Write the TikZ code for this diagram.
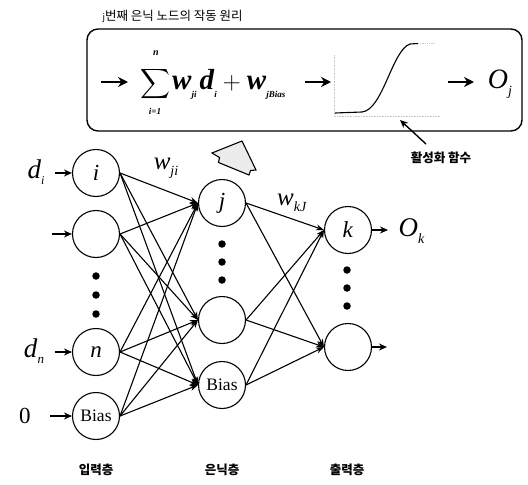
\documentclass[tikz,border=0pt]{standalone}
\usepackage{amsmath}
\usepackage{fontspec}
\setmainfont{Liberation Serif}
\newfontfamily\kor{Noto Sans CJK KR}
\usetikzlibrary{arrows.meta}

\begin{document}
\begin{tikzpicture}[x=1pt,y=-1pt,
  neuron/.style={circle,draw,line width=1.1pt,minimum size=47pt,inner sep=0pt,
                 font=\fontsize{23}{23}\selectfont},
  biasnode/.style={neuron,font=\fontsize{17.5}{17.5}\selectfont},
  link/.style={line width=1.1pt,-{Stealth[length=8pt,width=6pt]}},
  feed/.style={line width=1.3pt,-{Stealth[length=8pt,width=7pt]}},
  fatarrow/.style={line width=2.4pt,-{Stealth[length=10pt,width=10pt]}},
  vdot/.style={circle,fill,inner sep=0pt,minimum size=7.5pt},
  sym/.style={font=\fontsize{22}{22}\selectfont},
  layerlabel/.style={font=\kor\bfseries\fontsize{12.5}{12.5}\selectfont}]
\useasboundingbox (0,0) rectangle (528,485);

% ---- title and framed node equation ----
\node[anchor=west,font=\kor\fontsize{12.5}{12.5}\selectfont] (title) at (99,16)
  {\textit{\fontsize{9}{9}\selectfont j}번째 은닉 노드의 작동 원리};
\draw[line width=1.4pt,rounded corners=11pt] (87,29) rectangle (522,131);

\coordinate (f1s) at (101,82); \coordinate (f1e) at (128,82);
\draw[fatarrow] (f1s) -- (f1e);
\node[inner sep=0pt] (sumsign) at (155,84)
  {\fontsize{22}{22}\selectfont$\displaystyle\sum$};
\node[inner sep=0pt,font=\fontsize{10}{10}\selectfont\bfseries\itshape] (sumtop) at (156,53) {n};
\node[inner sep=0pt,font=\fontsize{9}{9}\selectfont\bfseries\itshape] (sumbot) at (155,111) {i=1};
\node[anchor=west,inner sep=0pt] (sumexpr) at (172,84)
  {\fontsize{29}{29}\selectfont
   \textbf{\textit{w}}\raisebox{-8pt}{\fontsize{9}{9}\selectfont\textbf{\textit{ji}}}%
   \hspace{3pt}\textbf{\textit{d}}\raisebox{-8pt}{\fontsize{9}{9}\selectfont\textbf{\textit{i}}}%
   \hspace{6pt}$+$\hspace{6pt}\textbf{\textit{w}}\raisebox{-8pt}{\fontsize{9}{9}\selectfont\textbf{\textit{jBias}}}};
\coordinate (f2s) at (305,82); \coordinate (f2e) at (331,82);
\draw[fatarrow] (f2s) -- (f2e);

% sigmoid activation sketch
\draw[gray!45,densely dotted,line width=0.6pt] (334,55) -- (334,116) -- (440,116);
\draw[line width=1.1pt] (335,113) -- (362,112)
  .. controls (383,110) and (392,50) .. (410,44) -- (418,43.5);
\draw[gray!45,densely dotted,line width=0.8pt] (418,43.5) -- (436,43.5);

\coordinate (f3s) at (448,82); \coordinate (f3e) at (474,82);
\draw[fatarrow] (f3s) -- (f3e);
\node[sym,font=\fontsize{28}{28}\selectfont] (Oj) at (500,84)
  {\textit{O}\raisebox{-7pt}{\fontsize{14}{14}\selectfont\textit{j}}};

% pointer to the activation function
\node[layerlabel] (actlabel) at (441,158) {활성화 함수};
\coordinate (actfoot) at (426,144);
\coordinate (acttip) at (400,120);
\draw[line width=1.4pt,-{Stealth[length=8pt,width=7pt]}] (actfoot) -- (acttip);

% stray polygon mark
\draw[line width=1.1pt,fill=gray!15] (212,153) -- (242,141) -- (256,170) -- (250.5,170.5)
  -- (249,175) -- (218.5,162.5) -- (219.5,157.5) -- cycle;

% ---- input layer ----
\node[neuron] (i1) at (96,173) {\textit{i}};
\node[neuron] (i2) at (96,234) {};
\node[neuron] (in) at (96,352) {\textit{n}};
\node[biasnode] (ib) at (96,416) {Bias};
\foreach \y [count=\c] in {276,295,314} \node[vdot] (idot\c) at (96,\y) {};

% ---- hidden layer ----
\node[neuron] (hj) at (222,203) {\textit{j}};
\node[neuron] (h3) at (222,320) {};
\node[biasnode] (hb) at (222,385) {Bias};
\foreach \y [count=\c] in {244,262,280} \node[vdot] (hdot\c) at (222,\y) {};

% ---- output layer ----
\node[neuron] (ok) at (348,230) {\textit{k}};
\node[neuron] (o2) at (348,347) {};
\foreach \y [count=\c] in {270,288,306} \node[vdot] (odot\c) at (347,\y) {};

% ---- inputs ----
\node[sym,font=\fontsize{27}{27}\selectfont] (di) at (36,172)
  {\textit{d}\raisebox{-6pt}{\fontsize{12}{12}\selectfont\textit{i}}};
\coordinate (di0) at (55,173);
\draw[feed] (di0) -- (i1.west);
\coordinate (x20) at (52,234);
\draw[feed] (x20) -- (i2.west);
\node[sym,font=\fontsize{27}{27}\selectfont] (dn) at (34,351)
  {\textit{d}\raisebox{-6pt}{\fontsize{13}{13}\selectfont\textit{n}}};
\coordinate (dn0) at (55,352);
\draw[feed] (dn0) -- (in.west);
\node[sym,font=\fontsize{23}{23}\selectfont] (zero) at (25,416) {0};
\coordinate (z0) at (50,416);
\draw[feed] (z0) -- (ib.west);

% ---- outputs ----
\coordinate (okout) at (388,230);
\draw[feed] (ok.east) -- (okout);
\node[sym,font=\fontsize{27}{27}\selectfont,anchor=west] (Ok) at (395,231)
  {\textit{O}\raisebox{-7pt}{\fontsize{14}{14}\selectfont\textit{k}}};
\coordinate (o2out) at (387,347);
\draw[feed] (o2.east) -- (o2out);

% ---- connections ----
\foreach \s in {i1,i2,in,ib}
  \foreach \t in {hj,h3,hb}
    \draw[link] (\s.east) -- (\t.west);
\foreach \s in {hj,h3,hb}
  \foreach \t in {ok,o2}
    \draw[link] (\s.east) -- (\t.west);

% ---- weight labels ----
\node[font=\fontsize{25}{25}\selectfont] (wji) at (166,168)
  {\textit{w}\raisebox{-6pt}{\fontsize{14}{14}\selectfont\textit{ji}}};
\node[font=\fontsize{25}{25}\selectfont] (wkj) at (292,203)
  {\textit{w}\raisebox{-6pt}{\fontsize{14}{14}\selectfont\textit{kJ}}};

% ---- layer names ----
\node[layerlabel] (Lin) at (96,470) {입력층};
\node[layerlabel] (Lhid) at (222,470) {은닉층};
\node[layerlabel] (Lout) at (347,470) {출력층};
\end{tikzpicture}
\end{document}
